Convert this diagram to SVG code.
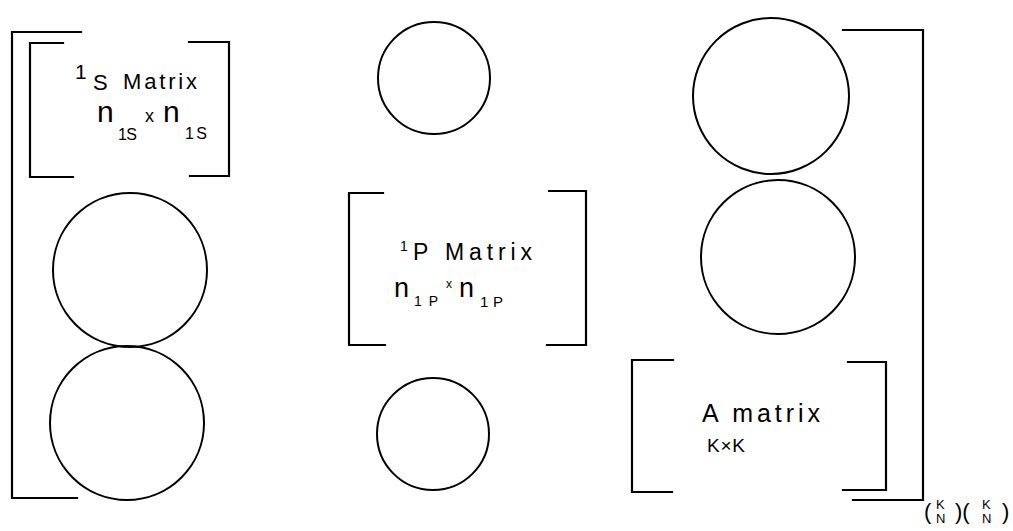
<svg xmlns="http://www.w3.org/2000/svg" width="1013" height="531" viewBox="0 0 1013 531">
<style>
.ln{fill:none;stroke:#000;stroke-width:2.2;stroke-linecap:square}
.c{fill:none;stroke:#000;stroke-width:2}
text{font-family:"Liberation Sans",Arial,sans-serif;fill:#000}
</style>
<rect width="1013" height="531" fill="#fff"/>
<g id="outer-left-bracket"><path class="ln" d="M81,32 H12 V498 H77"/></g>
<g id="matrix-1s">
<path class="ln" d="M63,43 H30 V177 H73"/>
<path class="ln" d="M189,42 H229 V176 H190"/>
<text x="75" y="79" font-size="21">1</text>
<text x="93" y="90" font-size="22">S</text>
<text x="123" y="89" font-size="22" textLength="74" lengthAdjust="spacing">Matrix</text>
<text x="97" y="122" font-size="30">n</text>
<text x="118" y="140" font-size="16" textLength="19" lengthAdjust="spacing">1S</text>
<text x="145" y="122" font-size="18">x</text>
<text x="163" y="122" font-size="30">n</text>
<text x="185" y="139" font-size="16" textLength="22" lengthAdjust="spacing">1S</text>
</g>
<g id="circle-l1"><circle class="c" cx="130" cy="270" r="77"/></g>
<g id="circle-l2"><circle class="c" cx="127" cy="423" r="77"/></g>
<g id="circle-m1"><circle class="c" cx="434" cy="78" r="56"/></g>
<g id="matrix-1p">
<path class="ln" d="M383,193 H349 V345 H385"/>
<path class="ln" d="M549,191 H586 V345 H547"/>
<text x="400" y="251" font-size="14">1</text>
<text x="413" y="260" font-size="23">P</text>
<text x="445" y="260" font-size="23" textLength="87" lengthAdjust="spacing">Matrix</text>
<text x="394" y="297" font-size="27">n</text>
<text x="414" y="306" font-size="14" textLength="24" lengthAdjust="spacing">1P</text>
<text x="446" y="288" font-size="12">x</text>
<text x="459" y="297" font-size="27">n</text>
<text x="480" y="307" font-size="15" textLength="23" lengthAdjust="spacing">1P</text>
</g>
<g id="circle-m2"><circle class="c" cx="433" cy="434" r="56"/></g>
<g id="circle-r1"><circle class="c" cx="771" cy="96" r="78"/></g>
<g id="circle-r2"><circle class="c" cx="778" cy="257" r="77"/></g>
<g id="matrix-a">
<path class="ln" d="M673,360 H632 V492 H672"/>
<path class="ln" d="M848,362 H886 V490 H843"/>
<text x="702" y="422" font-size="25" textLength="118" lengthAdjust="spacing">A matrix</text>
<text x="707" y="452" font-size="19" textLength="38" lengthAdjust="spacing">K×K</text>
</g>
<g id="outer-right-bracket">
<path class="ln" d="M843,30 H923 V500 H853"/>
<text x="924" y="519" font-size="22">(</text>
<text x="936" y="509" font-size="13">K</text>
<text x="936" y="523" font-size="13">N</text>
<text x="955" y="519" font-size="22">)(</text>
<text x="982" y="509" font-size="13">K</text>
<text x="982" y="523" font-size="13">N</text>
<text x="1002" y="519" font-size="22">)</text>
</g>
</svg>
